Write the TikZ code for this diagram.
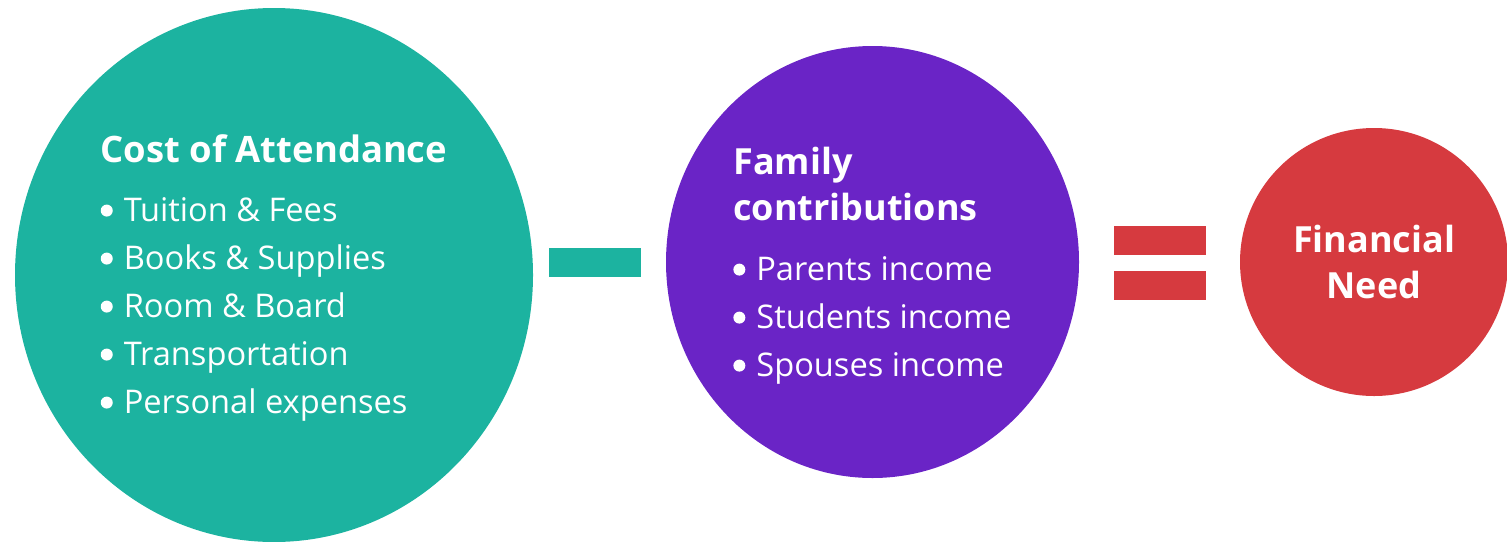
\documentclass[tikz,border=0pt]{standalone}
\usepackage{fontspec}
\setmainfont{Open Sans}
\usetikzlibrary{shapes.geometric, positioning}
\definecolor{attendteal}{RGB}{28,179,160}
\definecolor{familypurple}{RGB}{106,36,198}
\definecolor{needred}{RGB}{214,58,63}
\newcommand{\bigdot}{\tikz[baseline=-5.5pt]\fill (0pt,0pt) circle [radius=3pt];\hspace{5.5pt}}

\begin{document}
\begin{tikzpicture}[x=0.5pt, y=-0.5pt]
    % Define styles
    \tikzstyle{bubble} = [ellipse, inner sep=0pt, text=white, align=left, font=\fontsize{16.3}{24}\selectfont]
    \tikzstyle{title} = [font=\fontsize{18}{23}\selectfont\bfseries]
    \tikzstyle{bar} = [rectangle, inner sep=0pt, minimum width=46pt, minimum height=14.5pt]
    \useasboundingbox (0,0) rectangle (1507,541);

    % Nodes
    \node (cost) [bubble, fill=attendteal, minimum width=259pt, minimum height=267pt] at (274,275)
        {\rule{0pt}{17pt}{\fontsize{18.2}{23}\selectfont\bfseries Cost of Attendance}\\[5.5pt]
         \bigdot Tuition \& Fees\\
         \bigdot Books \& Supplies\\
         \bigdot Room \& Board\\
         \bigdot Transportation\\
         \bigdot Personal expenses};
    \node (minus) [bar, fill=attendteal] at (595,262.5) {};
    \node (family) [bubble, fill=familypurple, minimum width=206.5pt, minimum height=216pt] at (872.5,262)
        {\rule{0pt}{17.5pt}{\fontsize{18}{23}\selectfont\bfseries Family}\\[-1pt]
         {\fontsize{18}{23}\selectfont\bfseries contributions}\\[6pt]
         \bigdot Parents income\\
         \bigdot Students income\\
         \bigdot Spouses income};
    \node (eqtop) [bar, fill=needred] at (1159.5,240.5) {};
    \node (eqbot) [bar, fill=needred, below=7.5pt of eqtop] {};
    \node (need) [bubble, title, align=center, fill=needred, minimum width=134pt, minimum height=134pt] at (1374,262)
        {Financial\\Need};
\end{tikzpicture}
\end{document}
